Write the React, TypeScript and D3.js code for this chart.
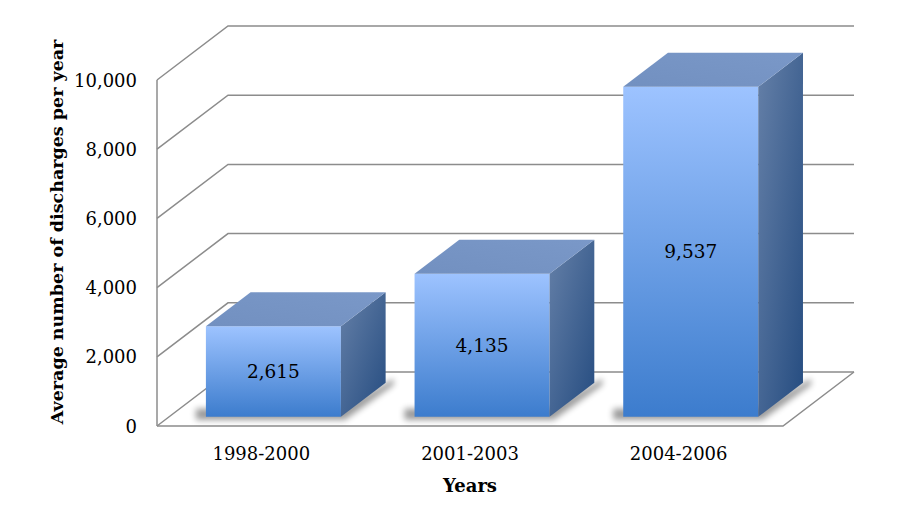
import React from "react";
import * as d3 from "d3";

const categories = ["1998-2000", "2001-2003", "2004-2006"];
const values = [2615, 4135, 9537];
const yTicks = [0, 2000, 4000, 6000, 8000, 10000];
const yTitle = "Average number of discharges per year";
const xTitle = "Years";

const W = 898;
const H = 523;
const X0 = 157; // front-left of floor
const Y0 = 426; // front floor line
const FLOOR_W = 626;
const DX = 71;
const DY = 54;
const PLOT_H = 346;
const D_FRONT = 0.17;
const D_BACK = 0.8;
const FONT = "'DejaVu Serif', serif";

export default function App() {
  const y = d3.scaleLinear().domain([0, 10000]).range([0, PLOT_H]);
  const x = d3
    .scaleBand<string>()
    .domain(categories)
    .range([0, FLOOR_W])
    .paddingInner(0.353)
    .paddingOuter(0.1765);

  const P = (xx: number, d: number, v: number): [number, number] => [
    X0 + xx + d * DX,
    Y0 - d * DY - y(v),
  ];
  const pts = (arr: [number, number][]) => arr.map((p) => p.join(",")).join(" ");
  const line = d3.line();

  const grid = "#8c8c8c";

  return (
    <svg width={W} height={H} style={{ position: "absolute", left: 0, top: 0, background: "#fff" }}>
      <defs>
        <linearGradient id="front" x1="0" y1="0" x2="0" y2="1">
          <stop offset="0" stopColor="#9dc3ff" />
          <stop offset="1" stopColor="#3c7ccd" />
        </linearGradient>
        <linearGradient id="side" x1="0" y1="0" x2="1" y2="1">
          <stop offset="0" stopColor="#6580a8" />
          <stop offset="1" stopColor="#254c80" />
        </linearGradient>
        <linearGradient id="top" x1="0" y1="1" x2="1" y2="0">
          <stop offset="0" stopColor="#7290c0" />
          <stop offset="1" stopColor="#7a98c8" />
        </linearGradient>
        <filter id="blur" x="-20%" y="-20%" width="140%" height="140%">
          <feGaussianBlur stdDeviation="3" />
        </filter>
      </defs>

      {/* left wall gridlines and back wall gridlines */}
      {yTicks.map((t) => {
        const a = P(0, 0, t);
        const b = P(0, 1, t);
        const c = P(FLOOR_W, 1, t);
        return (
          <path key={"g" + t} d={line([a, b, c]) || ""} fill="none" stroke={grid} strokeWidth={1.5} />
        );
      })}
      {/* vertical axis line */}
      <path d={line([P(0, 0, 0), P(0, 0, 10000)]) || ""} stroke={grid} strokeWidth={1.5} />
      {/* floor */}
      <path
        d={line([P(0, 0, 0), P(FLOOR_W, 0, 0), P(FLOOR_W, 1, 0)]) || ""}
        fill="none"
        stroke={grid}
        strokeWidth={1.5}
      />

      {/* bars */}
      {categories.map((c, i) => {
        const xl = x(c) as number;
        const xr = xl + x.bandwidth();
        const v = values[i];
        const fbl = P(xl, D_FRONT, 0);
        const fbr = P(xr, D_FRONT, 0);
        const ftl = P(xl, D_FRONT, v);
        const ftr = P(xr, D_FRONT, v);
        const btl = P(xl, D_BACK, v);
        const btr = P(xr, D_BACK, v);
        const bbr = P(xr, D_BACK, 0);
        const shadow: [number, number][] = [
          [fbl[0] - 10, fbl[1] - 8],
          [fbl[0] - 10, fbl[1] + 3],
          [fbr[0] + 4, fbr[1] + 3],
          [bbr[0] + 8, bbr[1] + 2],
          [bbr[0] + 8, bbr[1] - 4],
          [fbr[0], fbr[1] - 8],
        ];
        const cx = (fbl[0] + fbr[0]) / 2;
        const cy = (fbl[1] + ftl[1]) / 2;
        return (
          <g key={c}>
            <polygon points={pts(shadow)} fill="#000" opacity={0.4} filter="url(#blur)" />
            <polygon points={pts([fbl, fbr, ftr, ftl])} fill="url(#front)" />
            <polygon points={pts([fbr, bbr, btr, ftr])} fill="url(#side)" />
            <polygon points={pts([ftl, ftr, btr, btl])} fill="url(#top)" />
            <text
              x={cx}
              y={cy}
              textAnchor="middle"
              dominantBaseline="central"
              fontFamily={FONT}
              fontSize={18.5}
              fill="#000"
            >
              {d3.format(",")(v)}
            </text>
          </g>
        );
      })}

      {/* y tick labels */}
      {yTicks.map((t) => {
        const p = P(0, 0, t);
        return (
          <text
            key={"t" + t}
            x={137}
            y={p[1]}
            textAnchor="end"
            dominantBaseline="central"
            fontFamily={FONT}
            fontSize={18}
            fill="#000"
          >
            {d3.format(",")(t)}
          </text>
        );
      })}

      {/* category labels */}
      {categories.map((c) => {
        const p = P((x(c) as number) + x.bandwidth() / 2, 0, 0);
        return (
          <text
            key={"c" + c}
            x={p[0]}
            y={453}
            textAnchor="middle"
            dominantBaseline="central"
            fontFamily={FONT}
            fontSize={18}
            fill="#000"
          >
            {c}
          </text>
        );
      })}

      <text
        x={470}
        y={485}
        textAnchor="middle"
        dominantBaseline="central"
        fontFamily={FONT}
        fontSize={18}
        fontWeight="bold"
        fill="#000"
      >
        {xTitle}
      </text>
      <text
        transform={`translate(57,232) rotate(-90)`}
        textAnchor="middle"
        dominantBaseline="central"
        fontFamily={FONT}
        fontSize={17.5}
        fontWeight="bold"
        fill="#000"
      >
        {yTitle}
      </text>
    </svg>
  );
}
